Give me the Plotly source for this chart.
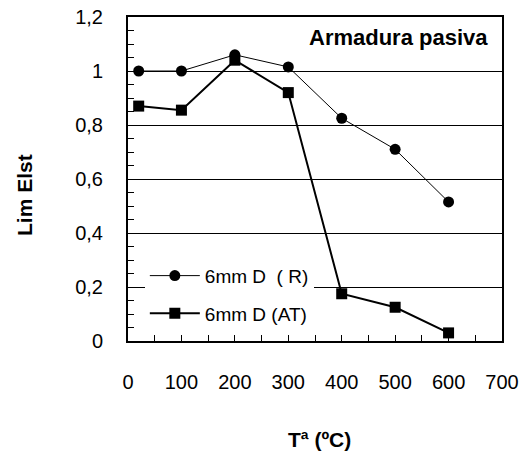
import plotly.graph_objects as go

temps = [20, 100, 200, 300, 400, 500, 600]
r_vals = [1.0, 1.0, 1.06, 1.015, 0.825, 0.71, 0.515]
at_vals = [0.87, 0.855, 1.04, 0.92, 0.175, 0.125, 0.03]
series_names = ["6mm D  ( R)", "6mm D (AT)"]
chart_title = "Armadura pasiva"
x_title = "Tª (ºC)"
y_title = "Lim Elst"

FONT = "Liberation Sans, Arial, sans-serif"

fig = go.Figure()
fig.add_trace(go.Scatter(
    x=temps, y=r_vals, name=series_names[0], mode="lines+markers",
    legendgroup="r",
    line=dict(color="black", width=1),
    marker=dict(symbol="circle", size=11, color="black"),
))
fig.add_trace(go.Scatter(
    x=temps, y=at_vals, name=series_names[1], mode="lines+markers",
    legendgroup="at",
    line=dict(color="black", width=2),
    marker=dict(symbol="square", size=11, color="black"),
))

fig.update_layout(
    width=528, height=456,
    margin=dict(l=128, r=26, t=17, b=115, autoexpand=False),
    paper_bgcolor="white", plot_bgcolor="white",
    separators=", ",
    font=dict(family=FONT, size=20, color="black"),
    showlegend=True,
    legend=dict(
        x=0.045, y=0.26, xanchor="left", yanchor="top",
        bgcolor="white", borderwidth=0,
        font=dict(size=19, family=FONT),
        itemwidth=50, tracegroupgap=10, traceorder="grouped",
    ),
    xaxis=dict(
        range=[0, 700], dtick=100, tick0=0, automargin=False,
        showgrid=False, zeroline=False,
        showline=True, linecolor="black", linewidth=2, mirror=True,
        ticks="inside", ticklen=6, tickcolor="black", tickwidth=1,
        minor=dict(dtick=50, ticks="inside", ticklen=6, tickcolor="black", tickwidth=1),
        ticklabelstandoff=22,
        tickfont=dict(size=20),
    ),
    yaxis=dict(
        range=[0, 1.2], dtick=0.2, tick0=0, automargin=False,
        showgrid=True, gridcolor="black", gridwidth=1, zeroline=False,
        showline=True, linecolor="black", linewidth=2, mirror=True,
        ticks="inside", ticklen=6, tickcolor="black", tickwidth=1,
        minor=dict(dtick=0.05, ticks="inside", ticklen=6, tickcolor="black", tickwidth=1, showgrid=False),
        ticklabelstandoff=19,
        tickfont=dict(size=20),
    ),
    annotations=[
        dict(text="<b>" + chart_title + "</b>", xref="paper", yref="paper",
             x=(490 - 128) / 374, y=(341 - 38) / 324, xanchor="right", yanchor="middle", showarrow=False,
             font=dict(size=22, family=FONT)),
        dict(text="<b>" + y_title + "</b>", xref="paper", yref="paper",
             x=(24 - 128) / 374, y=(341 - 195) / 324, xanchor="center", yanchor="middle",
             textangle=-90, showarrow=False, font=dict(size=21, family=FONT)),
        dict(text="<b>" + x_title + "</b>", xref="paper", yref="paper",
             x=(319 - 128) / 374, y=(341 - 439) / 324, xanchor="center", yanchor="middle",
             showarrow=False, font=dict(size=21, family=FONT)),
    ],
)

fig.write_html("out.html")
